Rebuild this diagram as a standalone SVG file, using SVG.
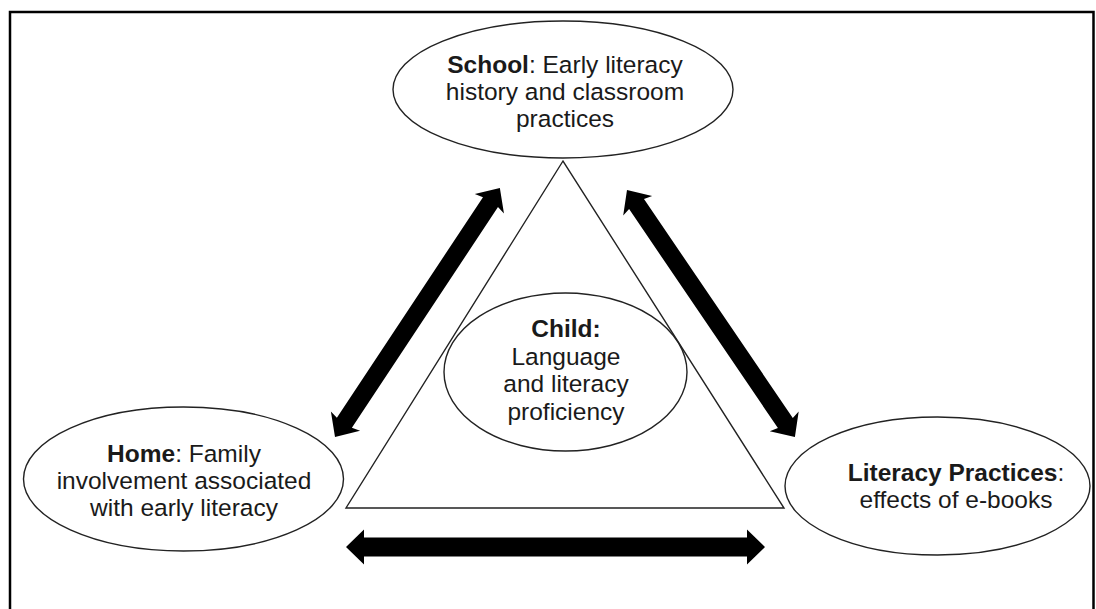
<svg xmlns="http://www.w3.org/2000/svg" width="1096" height="609" viewBox="0 0 1096 609">
<style>
.node ellipse{fill:#fff;stroke:#222;stroke-width:1.4}
.tri{fill:none;stroke:#222;stroke-width:1.4}
text{font-family:"Liberation Sans",Arial,sans-serif;font-size:24.5px;fill:#1a1a1a;text-anchor:middle}
.b{font-weight:bold}
.arrow{fill:#000}
.frame{fill:none;stroke:#000;stroke-width:2.5}
</style>
<rect width="1096" height="609" fill="#fff"/>
<path class="frame" d="M10,609 V12 H1093.5 V609"/>
<polygon class="tri" points="563,161 346,508 784,508"/>
<g id="school" class="node">
<ellipse cx="563" cy="89.5" rx="170" ry="68.5"/>
<text x="565" y="73"><tspan class="b">School</tspan>: Early literacy</text>
<text x="565" y="100">history and classroom</text>
<text x="565" y="127">practices</text>
</g>
<g id="child" class="node">
<ellipse cx="565.5" cy="372" rx="121.5" ry="79" style="fill:none"/>
<text x="566" y="337" class="b">Child:</text>
<text x="566" y="365">Language</text>
<text x="566" y="392">and literacy</text>
<text x="566" y="420">proficiency</text>
</g>
<g id="home" class="node">
<ellipse cx="183.5" cy="479" rx="160" ry="72"/>
<text x="184" y="462"><tspan class="b">Home</tspan>: Family</text>
<text x="184" y="489">involvement associated</text>
<text x="184" y="516">with early literacy</text>
</g>
<g id="literacy" class="node">
<ellipse cx="937.5" cy="486" rx="152.5" ry="69"/>
<text x="956" y="481"><tspan class="b">Literacy Practices</tspan>:</text>
<text x="956" y="508">effects of e-books</text>
</g>
<g id="connectors">
<path class="arrow" transform="translate(335,437) rotate(-56.5)" d="M0,0 L19,-17.5 L17,-9 L281.7,-9 L279.7,-17.5 L298.7,0 L279.7,17.5 L281.7,9 L17,9 L19,17.5 Z"/>
<path class="arrow" transform="translate(627,190) rotate(55.8)" d="M0,0 L19,-17.5 L17,-9 L281.7,-9 L279.7,-17.5 L298.7,0 L279.7,17.5 L281.7,9 L17,9 L19,17.5 Z"/>
<path class="arrow" transform="translate(346,547)" d="M0,0 L18,-17.5 L18,-9.5 L401,-9.5 L401,-17.5 L419,0 L401,17.5 L401,9.5 L18,9.5 L18,17.5 Z"/>
</g>
</svg>
